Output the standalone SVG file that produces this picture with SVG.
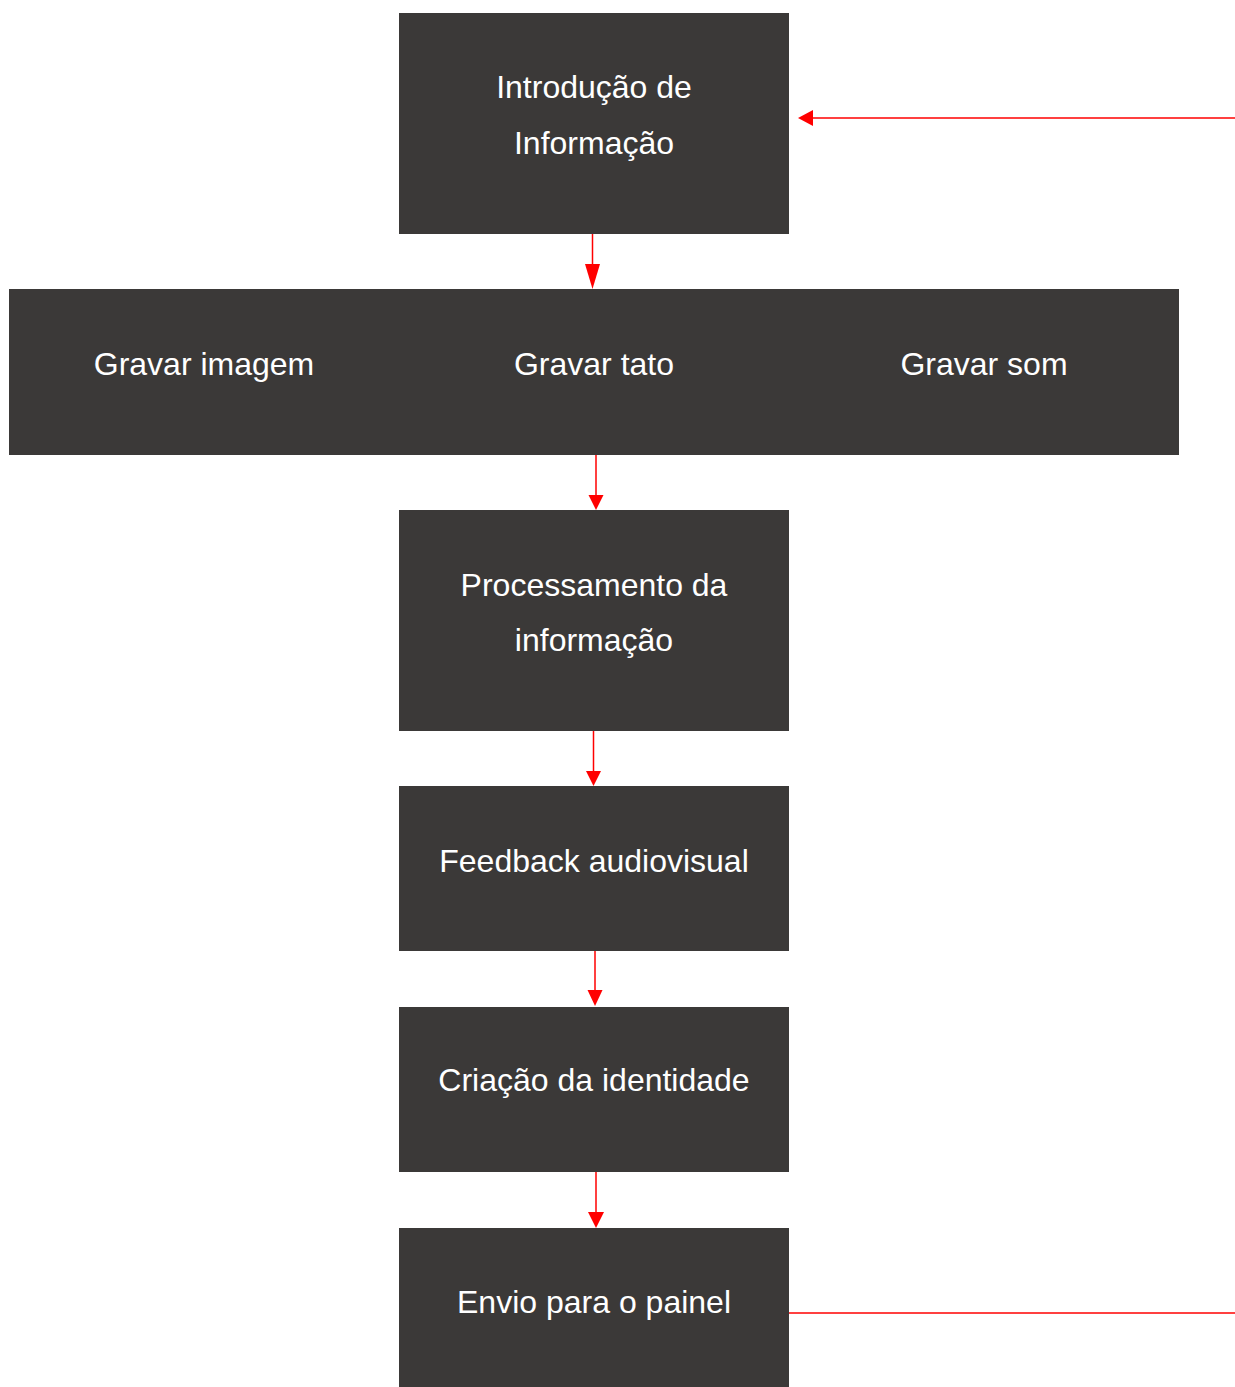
<svg xmlns="http://www.w3.org/2000/svg" width="1235" height="1387" viewBox="0 0 1235 1387">
<style>
.box{fill:#3b3938}
.t{fill:#ffffff;font-family:"Liberation Sans",Arial,sans-serif;font-size:32px;text-anchor:middle}
.c{stroke:#ff0000;stroke-width:1.5;fill:none}
.h{fill:#ff0000}
</style>
<rect width="1235" height="1387" fill="#ffffff"/>
<g id="n1"><rect class="box" x="399" y="13" width="390" height="221"/><text class="t" x="594" y="98">Introdução de</text><text class="t" x="594" y="154">Informação</text></g>
<g id="n2"><rect class="box" x="9" y="289" width="1170" height="166"/><text class="t" x="204" y="375">Gravar imagem</text><text class="t" x="594" y="375">Gravar tato</text><text class="t" x="984" y="375">Gravar som</text></g>
<g id="n3"><rect class="box" x="399" y="510" width="390" height="221"/><text class="t" x="594" y="596">Processamento da</text><text class="t" x="594" y="651">informação</text></g>
<g id="n4"><rect class="box" x="399" y="786" width="390" height="165"/><text class="t" x="594" y="872">Feedback audiovisual</text></g>
<g id="n5"><rect class="box" x="399" y="1007" width="390" height="165"/><text class="t" x="594" y="1091">Criação da identidade</text></g>
<g id="n6"><rect class="box" x="399" y="1228" width="390" height="159"/><text class="t" x="594" y="1313">Envio para o painel</text></g>
<g id="connectors">
<line class="c" x1="592.5" y1="234" x2="592.5" y2="266"/><polygon class="h" points="585,264 600,264 592.5,289"/>
<line class="c" x1="596" y1="455" x2="596" y2="497"/><polygon class="h" points="588.5,495 603.5,495 596,510"/>
<line class="c" x1="593.5" y1="731" x2="593.5" y2="772"/><polygon class="h" points="586,771 601,771 593.5,786"/>
<line class="c" x1="595" y1="951" x2="595" y2="992"/><polygon class="h" points="587.5,990 602.5,990 595,1006"/>
<line class="c" x1="596" y1="1172" x2="596" y2="1213"/><polygon class="h" points="588,1212 604,1212 596,1228"/>
<line class="c" x1="1235" y1="118" x2="811" y2="118"/><polygon class="h" points="813,110 813,126 798,118"/>
<line class="c" x1="789" y1="1313" x2="1235" y2="1313"/>
</g>
</svg>
